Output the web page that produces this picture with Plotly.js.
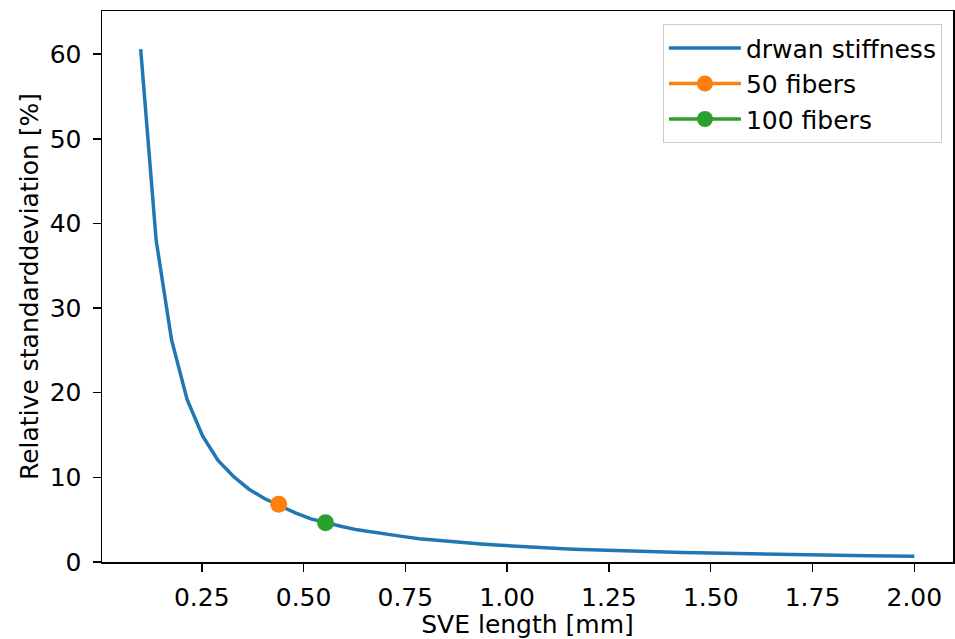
<!DOCTYPE html>
<html>
<head>
<meta charset="utf-8">
<script src="https://cdn.plot.ly/plotly-3.0.1.min.js"></script>
<style>html,body{margin:0;padding:0;background:#fff;}#chart{width:955px;height:639px;}</style>
</head>
<body>
<div id="chart"></div>
<script>
// SVE length [mm]
const sveLength = [0.100,0.138,0.176,0.214,0.252,0.290,0.328,0.366,0.404,0.442,
  0.480,0.518,0.556,0.594,0.632,0.670,0.708,0.746,0.784,0.822,
  0.860,0.898,0.936,0.974,1.012,1.050,1.088,1.126,1.164,1.202,
  1.240,1.278,1.316,1.354,1.392,1.430,1.468,1.506,1.544,1.582,
  1.620,1.658,1.696,1.734,1.772,1.810,1.848,1.886,1.924,1.962,2.000];
// Relative standard deviation [%] of drwan stiffness
const relStd = [60.6,38.0,26.2,19.2,14.9,12.0,10.1,8.6,7.5,6.6,
  5.8,5.1,4.6,4.2,3.8,3.5,3.2,3.0,2.75,2.57,
  2.40,2.25,2.12,2.00,1.88,1.78,1.69,1.60,1.52,1.45,
  1.39,1.33,1.27,1.22,1.17,1.12,1.08,1.04,1.00,0.97,
  0.94,0.91,0.88,0.85,0.82,0.80,0.77,0.75,0.73,0.71,0.69];
const fibers50 = {x: [0.439], y: [6.83]};
const fibers100 = {x: [0.554], y: [4.65]};
const seriesNames = ["drwan stiffness", "50 fibers", "100 fibers"];
const xTicks = [0.25,0.5,0.75,1.0,1.25,1.5,1.75,2.0];
const xTickText = ["0.25","0.50","0.75","1.00","1.25","1.50","1.75","2.00"];
const yTicks = [0,10,20,30,40,50,60];

const FONT = "DejaVu Sans, Liberation Sans, sans-serif";
const FS = 25;
const traces = [
  {x: sveLength, y: relStd, type: "scatter", mode: "lines", name: seriesNames[0], legendgroup: "a",
   line: {color: "#1f77b4", width: 3.5}},
  {x: fibers50.x, y: fibers50.y, type: "scatter", mode: "lines+markers", name: seriesNames[1], legendgroup: "b",
   line: {color: "#ff7f0e", width: 3.5}, marker: {color: "#ff7f0e", size: 17}},
  {x: fibers100.x, y: fibers100.y, type: "scatter", mode: "lines+markers", name: seriesNames[2], legendgroup: "c",
   line: {color: "#2ca02c", width: 3.5}, marker: {color: "#2ca02c", size: 17}}
];
const axisCommon = {
  showline: true, linecolor: "#000", linewidth: 1.5, mirror: true,
  ticks: "outside", ticklen: 8, tickwidth: 1.5, tickcolor: "#000",
  showgrid: false, zeroline: false, automargin: false,
  tickfont: {family: FONT, size: FS, color: "#000"}
};
const layout = {
  width: 955, height: 639,
  margin: {l: 102, r: 2, t: 11, b: 77},
  paper_bgcolor: "#fff", plot_bgcolor: "#fff",
  font: {family: FONT, color: "#000"},
  showlegend: true,
  xaxis: Object.assign({}, axisCommon, {
    range: [0.005, 2.095], tickvals: xTicks, ticktext: xTickText,
    ticklabelstandoff: 4,
    title: {text: "SVE length [mm]", font: {family: FONT, size: FS, color: "#000"}, standoff: 6}
  }),
  yaxis: Object.assign({}, axisCommon, {
    range: [0, 65.1], tickvals: yTicks,
    ticklabelstandoff: 6,
    title: {text: "Relative standarddeviation [%]", font: {family: FONT, size: FS, color: "#000"}, standoff: 4}
  }),
  legend: {
    x: 0.987, y: 0.976, xanchor: "right", yanchor: "top",
    bgcolor: "#fff", bordercolor: "#cccccc", borderwidth: 1,
    font: {family: FONT, size: FS, color: "#000"},
    itemwidth: 72, tracegroupgap: 0
  }
};
Plotly.newPlot("chart", traces, layout, {staticPlot: true, displayModeBar: false});
</script>
</body>
</html>
